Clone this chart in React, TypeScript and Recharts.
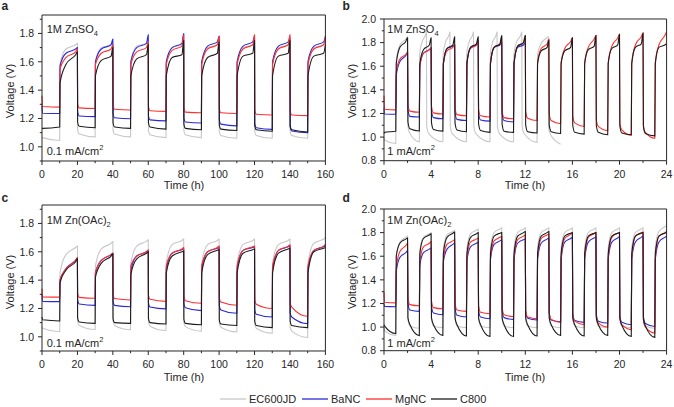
import React from "react";
import { LineChart, Line, XAxis, YAxis } from "recharts";

const FONT = '"Liberation Sans", Arial, Helvetica, sans-serif';
const INK = "#262626";

const seriesNames = ["EC600JD", "BaNC", "MgNC", "C800"];
const seriesColors = ["#c8c8c8", "#2a2ad8", "#ff2f2f", "#1c1c1c"];

const timeTicksLong = [0, 10, 20, 30, 40, 50, 60, 70, 80, 90, 100, 110, 120, 130, 140, 150, 160];
const timeLabelsLong = [0, 20, 40, 60, 80, 100, 120, 140, 160];
const timeTicksShort = [0, 2, 4, 6, 8, 10, 12, 14, 16, 18, 20, 22, 24];
const timeLabelsShort = [0, 4, 8, 12, 16, 20, 24];
const voltTicksLow = [0.9, 1.0, 1.1, 1.2, 1.3, 1.4, 1.5, 1.6, 1.7, 1.8, 1.9];
const voltLabelsLow = [1.0, 1.2, 1.4, 1.6, 1.8];
const voltTicksWide = [0.8, 0.9, 1.0, 1.1, 1.2, 1.3, 1.4, 1.5, 1.6, 1.7, 1.8, 1.9, 2.0];
const voltLabelsWide = [0.8, 1.0, 1.2, 1.4, 1.6, 1.8, 2.0];

// each cycle: [discharge start, discharge end, charge knee, charge mid, charge late, charge end, charge fraction]
// order of series: EC600JD, BaNC, MgNC, C800

// (a) 1M ZnSO4, 0.1 mA/cm2
const aStart = [1.07, 1.29, 1.36, 1.13];
const aEC600JD = [
  [1.065, 1.045, 1.58, 1.69, 1.72, 1.73], [1.09, 1.07, 1.6, 1.7, 1.72, 1.73],
  [1.09, 1.07, 1.6, 1.71, 1.73, 1.74], [1.085, 1.065, 1.6, 1.7, 1.72, 1.73],
  [1.085, 1.065, 1.6, 1.7, 1.72, 1.73], [1.08, 1.06, 1.6, 1.7, 1.72, 1.73],
  [1.08, 1.06, 1.6, 1.7, 1.72, 1.73], [1.08, 1.06, 1.6, 1.7, 1.72, 1.73],
];
const aBaNC = [
  [1.237, 1.235, 1.57, 1.66, 1.69, 1.7], [1.218, 1.213, 1.6, 1.69, 1.72, 1.76],
  [1.205, 1.198, 1.6, 1.7, 1.73, 1.79], [1.19, 1.183, 1.6, 1.7, 1.73, 1.8],
  [1.175, 1.168, 1.6, 1.71, 1.74, 1.78], [1.16, 1.148, 1.6, 1.71, 1.74, 1.78],
  [1.135, 1.123, 1.6, 1.71, 1.74, 1.77], [1.112, 1.1, 1.6, 1.71, 1.74, 1.78],
];
const aMgNC = [
  [1.285, 1.28, 1.55, 1.63, 1.67, 1.69], [1.275, 1.27, 1.58, 1.66, 1.69, 1.72],
  [1.265, 1.26, 1.58, 1.67, 1.7, 1.74], [1.255, 1.25, 1.58, 1.68, 1.71, 1.79],
  [1.245, 1.24, 1.58, 1.69, 1.72, 1.78], [1.24, 1.235, 1.58, 1.69, 1.72, 1.79],
  [1.23, 1.225, 1.58, 1.69, 1.72, 1.79], [1.225, 1.22, 1.58, 1.69, 1.72, 1.78],
];
const aC800 = [
  [1.13, 1.14, 1.45, 1.58, 1.65, 1.67], [1.145, 1.135, 1.5, 1.61, 1.64, 1.7],
  [1.14, 1.13, 1.5, 1.62, 1.65, 1.72], [1.14, 1.125, 1.5, 1.63, 1.65, 1.75],
  [1.13, 1.12, 1.5, 1.63, 1.66, 1.74], [1.125, 1.115, 1.5, 1.64, 1.66, 1.75],
  [1.12, 1.11, 1.5, 1.64, 1.66, 1.75], [1.12, 1.105, 1.5, 1.64, 1.66, 1.72],
];

// (b) 1M ZnSO4, 1 mA/cm2
const bStart = [1.0, 1.25, 1.35, 1.03];
const bEC600JD = [
  [0.975, 0.945, 1.65, 1.78, 1.83, 1.85], [1.03, 0.96, 1.7, 1.8, 1.86, 1.89, 0.6],
  [1.03, 0.96, 1.7, 1.8, 1.86, 1.89, 0.6], [1.03, 0.96, 1.7, 1.8, 1.86, 1.89, 0.6],
  [1.03, 0.96, 1.7, 1.8, 1.86, 1.89, 0.6], [1.03, 0.96, 1.7, 1.8, 1.86, 1.89, 0.7],
  [1.03, 0.955, 1.7, 1.79, 1.84, 1.85, 0.95], [1.02, 0.94],
];
const bBaNC = [
  [1.195, 1.193, 1.52, 1.64, 1.69, 1.715], [1.175, 1.17, 1.6, 1.71, 1.74, 1.75],
  [1.165, 1.155, 1.62, 1.75, 1.77, 1.78], [1.15, 1.14, 1.62, 1.76, 1.78, 1.8],
  [1.145, 1.135, 1.62, 1.76, 1.78, 1.8], [1.14, 1.128, 1.62, 1.76, 1.78, 1.8],
];
const bMgNC = [
  [1.235, 1.23, 1.55, 1.66, 1.7, 1.72], [1.22, 1.21, 1.6, 1.71, 1.74, 1.76],
  [1.205, 1.195, 1.62, 1.73, 1.76, 1.78], [1.19, 1.18, 1.63, 1.75, 1.78, 1.82],
  [1.18, 1.17, 1.63, 1.76, 1.79, 1.84], [1.165, 1.155, 1.63, 1.77, 1.8, 1.86],
  [1.16, 1.14, 1.63, 1.75, 1.79, 1.83], [1.14, 1.113, 1.63, 1.75, 1.81, 1.84],
  [1.12, 1.09, 1.63, 1.76, 1.83, 1.86], [1.09, 1.055, 1.63, 1.77, 1.84, 1.87],
  [1.06, 1.015, 1.63, 1.78, 1.85, 1.88], [1.04, 0.99, 1.63, 1.78, 1.86, 1.89],
];
const bC800 = [
  [1.04, 1.05, 1.62, 1.76, 1.81, 1.84], [1.07, 1.052, 1.62, 1.74, 1.78, 1.84],
  [1.065, 1.05, 1.62, 1.75, 1.78, 1.85], [1.06, 1.045, 1.62, 1.76, 1.79, 1.85],
  [1.055, 1.04, 1.62, 1.76, 1.79, 1.86], [1.05, 1.04, 1.62, 1.77, 1.8, 1.86],
  [1.045, 1.035, 1.62, 1.73, 1.76, 1.82], [1.045, 1.03, 1.62, 1.73, 1.76, 1.84],
  [1.04, 1.025, 1.62, 1.74, 1.77, 1.86], [1.04, 1.02, 1.62, 1.75, 1.78, 1.87],
  [1.035, 1.02, 1.62, 1.76, 1.79, 1.88], [1.03, 1.01, 1.62, 1.76, 1.78, 1.79],
];

// (c) 1M Zn(OAc)2, 0.1 mA/cm2
const cStart = [1.07, 1.3, 1.34, 1.14];
const cEC600JD = [
  [1.06, 1.036, 1.45, 1.58, 1.63, 1.641], [1.08, 1.052, 1.5, 1.62, 1.66, 1.672],
  [1.08, 1.05, 1.52, 1.64, 1.675, 1.685], [1.075, 1.045, 1.52, 1.65, 1.68, 1.69],
  [1.072, 1.04, 1.52, 1.65, 1.68, 1.69], [1.068, 1.035, 1.52, 1.65, 1.68, 1.69],
  [1.06, 1.025, 1.52, 1.65, 1.68, 1.69], [1.04, 0.995, 1.52, 1.66, 1.69, 1.7],
];
const cBaNC = [
  [1.25, 1.248, 1.4, 1.48, 1.54, 1.555], [1.232, 1.222, 1.45, 1.54, 1.58, 1.59],
  [1.222, 1.212, 1.47, 1.57, 1.6, 1.61], [1.21, 1.197, 1.48, 1.59, 1.615, 1.62],
  [1.205, 1.185, 1.48, 1.6, 1.625, 1.63], [1.19, 1.166, 1.48, 1.61, 1.63, 1.635],
  [1.16, 1.14, 1.48, 1.61, 1.635, 1.64], [1.14, 1.093, 1.48, 1.61, 1.635, 1.64],
];
const cMgNC = [
  [1.282, 1.28, 1.4, 1.48, 1.54, 1.56], [1.278, 1.272, 1.45, 1.54, 1.58, 1.59],
  [1.27, 1.26, 1.5, 1.57, 1.6, 1.612], [1.265, 1.25, 1.5, 1.59, 1.62, 1.63],
  [1.255, 1.237, 1.5, 1.6, 1.63, 1.64], [1.245, 1.223, 1.5, 1.61, 1.635, 1.64],
  [1.23, 1.2, 1.5, 1.61, 1.64, 1.65], [1.21, 1.145, 1.5, 1.61, 1.64, 1.653],
];
const cC800 = [
  [1.12, 1.112, 1.38, 1.47, 1.53, 1.55], [1.105, 1.095, 1.42, 1.52, 1.57, 1.585],
  [1.1, 1.095, 1.44, 1.55, 1.59, 1.6], [1.1, 1.09, 1.45, 1.57, 1.6, 1.605],
  [1.095, 1.085, 1.45, 1.58, 1.61, 1.615], [1.09, 1.08, 1.45, 1.59, 1.615, 1.62],
  [1.08, 1.065, 1.45, 1.59, 1.62, 1.625], [1.08, 1.065, 1.45, 1.6, 1.625, 1.63],
];

// (d) 1M Zn(OAc)2, 1 mA/cm2
const dStart = [1.0, 1.2, 1.3, 1.02];
const dEC600JD = [
  [0.97, 0.93, 1.6, 1.72, 1.76, 1.77], [1.01, 0.99, 1.65, 1.76, 1.79, 1.8],
  [1.01, 0.995, 1.66, 1.78, 1.81, 1.82], [1.01, 0.995, 1.67, 1.79, 1.82, 1.83],
  [1.01, 0.995, 1.67, 1.8, 1.83, 1.84], [1.01, 0.995, 1.67, 1.8, 1.83, 1.84],
  [1.01, 0.995, 1.67, 1.8, 1.83, 1.84], [1.01, 0.995, 1.67, 1.8, 1.83, 1.84],
  [1.01, 0.995, 1.67, 1.8, 1.83, 1.84], [1.01, 0.995, 1.67, 1.8, 1.83, 1.84],
  [1.01, 0.995, 1.67, 1.8, 1.83, 1.84], [1.01, 0.99, 1.68, 1.81, 1.85, 1.86],
];
const dBaNC = [
  [1.175, 1.172, 1.47, 1.59, 1.63, 1.645], [1.145, 1.133, 1.52, 1.63, 1.66, 1.67],
  [1.12, 1.105, 1.55, 1.66, 1.7, 1.71], [1.1, 1.085, 1.56, 1.68, 1.71, 1.72],
  [1.085, 1.07, 1.57, 1.7, 1.73, 1.74], [1.08, 1.065, 1.57, 1.71, 1.74, 1.745],
  [1.075, 1.06, 1.57, 1.71, 1.745, 1.755], [1.06, 1.045, 1.57, 1.72, 1.75, 1.76],
  [1.055, 1.04, 1.57, 1.72, 1.755, 1.762], [1.05, 1.034, 1.57, 1.72, 1.755, 1.765],
  [1.04, 1.02, 1.57, 1.72, 1.76, 1.77], [1.03, 1.005, 1.57, 1.72, 1.76, 1.77],
];
const dMgNC = [
  [1.21, 1.205, 1.5, 1.64, 1.69, 1.71], [1.19, 1.18, 1.55, 1.68, 1.71, 1.725],
  [1.165, 1.155, 1.57, 1.7, 1.73, 1.74], [1.145, 1.133, 1.58, 1.72, 1.745, 1.755],
  [1.125, 1.113, 1.58, 1.73, 1.76, 1.768], [1.105, 1.09, 1.58, 1.74, 1.77, 1.78],
  [1.085, 1.07, 1.58, 1.75, 1.78, 1.788], [1.065, 1.04, 1.58, 1.75, 1.785, 1.795],
  [1.05, 1.02, 1.58, 1.76, 1.79, 1.8], [1.035, 1.0, 1.58, 1.76, 1.795, 1.8],
  [1.02, 0.978, 1.58, 1.77, 1.8, 1.805], [1.0, 0.95, 1.58, 1.77, 1.8, 1.81],
];
const dC800 = [
  [1.01, 0.945, 1.6, 1.71, 1.745, 1.755], [1.02, 0.928, 1.62, 1.75, 1.78, 1.79],
  [1.02, 0.93, 1.62, 1.76, 1.795, 1.805], [1.02, 0.925, 1.62, 1.76, 1.79, 1.8],
  [1.02, 0.92, 1.62, 1.77, 1.795, 1.8], [1.02, 0.92, 1.62, 1.77, 1.8, 1.81],
  [1.02, 0.925, 1.62, 1.77, 1.8, 1.81], [1.02, 0.93, 1.62, 1.77, 1.795, 1.8],
  [1.02, 0.925, 1.62, 1.77, 1.795, 1.8], [1.02, 0.93, 1.62, 1.77, 1.795, 1.8],
  [1.015, 0.92, 1.62, 1.77, 1.795, 1.8], [1.01, 0.913, 1.62, 1.77, 1.795, 1.8],
];

type Shape = { first: number; d0: number; d1: number; gap: number; k: number; m: number; p: number };
const slowShape: Shape = { first: 0.03, d0: 0.01, d1: 0.1, gap: 0.03, k: 0.015, m: 0.35, p: 0.9 };
const fastShape: Shape = { first: 0.04, d0: 0.03, d1: 0.2, gap: 0.06, k: 0.04, m: 0.35, p: 0.85 };

// turn the per-cycle readings into time/voltage points
function buildCurve(start: number, cycles: number[][], half: number, s: Shape) {
  const pts = [{ t: 0, v: start }];
  let tDis = 0;
  cycles.forEach((c, k) => {
    const t0 = k * 2 * half;
    const [disA, disB, knee, mid, late, end, frac = 1] = c;
    if (k === 0) {
      pts.push({ t: s.first * half, v: disA });
    } else {
      pts.push({ t: tDis + s.d0 * half, v: disA + s.gap });
      pts.push({ t: tDis + s.d1 * half, v: disA });
    }
    pts.push({ t: t0 + half, v: disB });
    if (c.length > 2) {
      const tc = t0 + half;
      const len = frac * half;
      pts.push({ t: tc + s.k * len, v: knee });
      pts.push({ t: tc + s.m * len, v: mid });
      pts.push({ t: tc + s.p * len, v: late });
      pts.push({ t: tc + len, v: end });
      tDis = tc + len;
    }
  });
  return pts;
}

const near = (list: number[], v: number) => list.some((l) => Math.abs(l - v) < 1e-6);

function makeTick(side: string, labels: number[], digits: number, showText: boolean) {
  return (props: any) => {
    const { x, y, payload } = props;
    const v = payload.value;
    const major = near(labels, v);
    const len = major ? 4 : 2.2;
    const txt = v.toFixed(digits);
    if (side === "bottom") {
      return (
        <g>
          <line x1={x} x2={x} y1={y} y2={y + len} stroke={INK} />
          {showText && major && (
            <text x={x} y={y + 17} textAnchor="middle" fontSize={10.5} fill={INK} fontFamily={FONT}>{txt}</text>
          )}
        </g>
      );
    }
    if (side === "top") return <line x1={x} x2={x} y1={y} y2={y - len} stroke={INK} />;
    if (side === "right") return <line x1={x} x2={x + len} y1={y} y2={y} stroke={INK} />;
    return (
      <g>
        <line x1={x} x2={x - len} y1={y} y2={y} stroke={INK} />
        {showText && major && (
          <text x={x - 8} y={y + 3.8} textAnchor="end" fontSize={10.5} fill={INK} fontFamily={FONT}>{txt}</text>
        )}
      </g>
    );
  };
}

type PanelProps = {
  left: number; top: number; w: number; h: number;
  xMax: number; xTicks: number[]; xLabels: number[];
  yDomain: number[]; yTicks: number[]; yLabels: number[];
  starts: number[]; cycles: number[][][]; half: number; shape: Shape;
};

function Panel(p: PanelProps) {
  const ML = 40, MR = 12, MT = 10, MB = 22;
  const curves = p.cycles.map((c, i) => buildCurve(p.starts[i], c, p.half, p.shape));
  const axisLine = { stroke: INK, strokeWidth: 1 };
  // each axis takes 1px so that it is drawn, margins are trimmed by the same amount
  return (
    <div style={{ position: "absolute", left: p.left - ML, top: p.top - MT }}>
      <LineChart width={p.w + ML + MR} height={p.h + MT + MB}
        margin={{ top: MT - 1, right: MR - 1, bottom: MB - 1, left: ML - 1 }}>
        <XAxis xAxisId="b" dataKey="t" type="number" domain={[0, p.xMax]} ticks={p.xTicks} interval={0}
          height={1} tickSize={0} tickMargin={0} tickLine={false} axisLine={axisLine}
          tick={makeTick("bottom", p.xLabels, 0, true)} />
        <XAxis xAxisId="t" orientation="top" dataKey="t" type="number" domain={[0, p.xMax]} ticks={p.xTicks} interval={0}
          height={1} tickSize={0} tickMargin={0} tickLine={false} axisLine={axisLine}
          tick={makeTick("top", p.xLabels, 0, false)} />
        <YAxis yAxisId="l" type="number" domain={p.yDomain} ticks={p.yTicks} interval={0}
          width={1} tickSize={0} tickMargin={0} tickLine={false} axisLine={axisLine}
          tick={makeTick("left", p.yLabels, 1, true)} />
        <YAxis yAxisId="r" orientation="right" type="number" domain={p.yDomain} ticks={p.yTicks} interval={0}
          width={1} tickSize={0} tickMargin={0} tickLine={false} axisLine={axisLine}
          tick={makeTick("right", p.yLabels, 1, false)} />
        {curves.map((pts, i) => (
          <Line key={seriesNames[i]} xAxisId="b" yAxisId="l" data={pts} dataKey="v" type="monotone"
            stroke={seriesColors[i]} strokeWidth={1.1} dot={false} isAnimationActive={false} />
        ))}
      </LineChart>
    </div>
  );
}

const txt = { fontFamily: FONT, fill: INK } as const;

function Note({ x, y, main, sub, sup }: { x: number; y: number; main: string; sub?: string; sup?: string }) {
  return (
    <text x={x} y={y} fontSize={11} {...txt}>
      {main}
      {sub && <tspan dy={3} fontSize={7.5}>{sub}</tspan>}
      {sup && <tspan dy={-4.5} fontSize={7.5}>{sup}</tspan>}
    </text>
  );
}

export default function App() {
  const L = 42.3, R = 383.7, W = 283.4;
  return (
    <div style={{ position: "absolute", left: 0, top: 0, width: 674, height: 407, background: "#fff", overflow: "hidden" }}>
      <Panel left={L} top={15} w={W} h={146} xMax={160} xTicks={timeTicksLong} xLabels={timeLabelsLong}
        yDomain={[0.9, 1.93]} yTicks={voltTicksLow} yLabels={voltLabelsLow}
        starts={aStart} cycles={[aEC600JD, aBaNC, aMgNC, aC800]} half={10} shape={slowShape} />
      <Panel left={R} top={19.3} w={282.6} h={141.7} xMax={24} xTicks={timeTicksShort} xLabels={timeLabelsShort}
        yDomain={[0.8, 2.0]} yTicks={voltTicksWide} yLabels={voltLabelsWide}
        starts={bStart} cycles={[bEC600JD, bBaNC, bMgNC, bC800]} half={1} shape={fastShape} />
      <Panel left={L} top={205} w={W} h={146} xMax={160} xTicks={timeTicksLong} xLabels={timeLabelsLong}
        yDomain={[0.9, 1.93]} yTicks={voltTicksLow} yLabels={voltLabelsLow}
        starts={cStart} cycles={[cEC600JD, cBaNC, cMgNC, cC800]} half={10} shape={slowShape} />
      <Panel left={R} top={209.3} w={282.6} h={141.7} xMax={24} xTicks={timeTicksShort} xLabels={timeLabelsShort}
        yDomain={[0.8, 2.0]} yTicks={voltTicksWide} yLabels={voltLabelsWide}
        starts={dStart} cycles={[dEC600JD, dBaNC, dMgNC, dC800]} half={1} shape={fastShape} />

      <svg width={674} height={407} style={{ position: "absolute", left: 0, top: 0, pointerEvents: "none" }}>
        <text x={1.5} y={10} fontSize={12} fontWeight="bold" {...txt}>a</text>
        <text x={342.5} y={10} fontSize={12} fontWeight="bold" {...txt}>b</text>
        <text x={1.5} y={202} fontSize={12} fontWeight="bold" {...txt}>c</text>
        <text x={342.5} y={202} fontSize={12} fontWeight="bold" {...txt}>d</text>

        {[[13.5, 91], [355.5, 91], [13.5, 282], [355.5, 282]].map(([x, y], i) => (
          <text key={i} x={x} y={y} fontSize={11} textAnchor="middle" transform={`rotate(-90 ${x} ${y})`} {...txt}>
            Voltage (V)
          </text>
        ))}
        {[[184, 188.5], [525, 188.5], [184, 380.5], [525, 380.5]].map(([x, y], i) => (
          <text key={i} x={x} y={y} fontSize={11} textAnchor="middle" {...txt}>Time (h)</text>
        ))}

        <Note x={46.7} y={33} main="1M ZnSO" sub="4" />
        <Note x={46.7} y={154.5} main="0.1 mA/cm" sup="2" />
        <Note x={387.3} y={33} main="1M ZnSO" sub="4" />
        <Note x={387.3} y={154.5} main="1 mA/cm" sup="2" />
        <Note x={46.7} y={223.5} main="1M Zn(OAc)" sub="2" />
        <Note x={46.7} y={346.5} main="0.1 mA/cm" sup="2" />
        <Note x={387.3} y={223.5} main="1M Zn(OAc)" sub="2" />
        <Note x={387.3} y={346.5} main="1 mA/cm" sup="2" />

        {seriesNames.map((n, i) => {
          const x0 = [220, 302, 366, 431][i];
          return (
            <g key={n}>
              <line x1={x0} x2={x0 + 26} y1={399} y2={399} stroke={seriesColors[i]} strokeWidth={1.3} />
              <text x={x0 + 29} y={403} fontSize={11} {...txt}>{n}</text>
            </g>
          );
        })}
      </svg>
    </div>
  );
}
